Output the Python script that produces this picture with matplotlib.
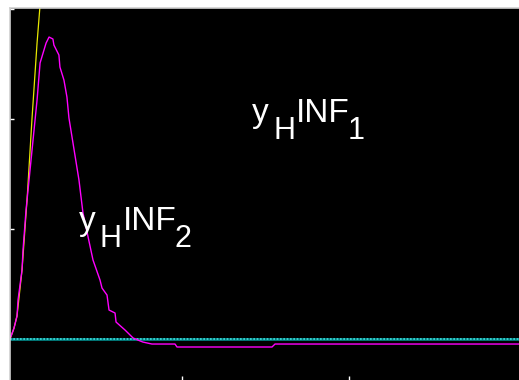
import numpy as np
import matplotlib
matplotlib.use('Agg')
import matplotlib.pyplot as plt

# magenta response curve (rises, peaks, settles slightly below zero)
t_inf2 = [0, 0.024, 0.042, 0.048, 0.072, 0.078, 0.096, 0.102, 0.120, 0.132,
          0.162, 0.180, 0.216, 0.234, 0.257, 0.263, 0.293, 0.299, 0.323, 0.341,
          0.353, 0.383, 0.413, 0.437, 0.497, 0.539, 0.551, 0.581, 0.593, 0.629,
          0.635, 0.689, 0.737, 0.766, 0.796, 0.850, 0.988, 1.000, 1.569, 1.587, 3.048]
y_inf2 = [-0.005, 0.095, 0.205, 0.350, 0.623, 0.805, 1.168, 1.259, 1.532, 1.714,
          2.168, 2.505, 2.686, 2.741, 2.723, 2.668, 2.577, 2.468, 2.350, 2.195,
          2.005, 1.723, 1.441, 1.141, 0.714, 0.532, 0.459, 0.395, 0.259, 0.232,
          0.150, 0.077, 0.005, -0.014, -0.032, -0.050, -0.050, -0.077, -0.077, -0.050, -0.050]

# yellow curve (steep rise, leaves the plot at the top)
t_yel = [0, 0.024, 0.042, 0.072, 0.102, 0.132, 0.162, 0.180, 0.186]
y_yel = [-0.005, 0.095, 0.205, 0.623, 1.259, 2.005, 2.686, 3.032, 3.168]

# cyan baseline
t_inf1 = [0, 3.048]
y_inf1 = [-0.005, -0.005]

W, H = 519, 380
fig = plt.figure(figsize=(W/100, H/100), dpi=100)
fig.patch.set_facecolor('white')
ax = fig.add_axes([10/W, 0, (W-10)/W, (H-8)/H])
ax.set_facecolor('black')

ax.plot(t_inf1, y_inf1, color='#008080', lw=2.0)
ax.plot(t_inf1, y_inf1, color='#40e0e0', lw=1.2, ls=(0, (1, 1)))
ax.plot(t_yel, y_yel, color='#e8e800', lw=0.9)
ax.plot(t_inf2, y_inf2, color='#ff00ff', lw=1.0)

ax.set_xlim(0, 3.048)
ax.set_ylim(-0.377, 3.005)
ax.set_xticks([1.03, 2.03])
ax.set_yticks([0, 1, 2, 3])
ax.tick_params(direction='in', colors='white', length=3, width=1,
               labelleft=False, labelbottom=False)
for s in ['top', 'left']:
    ax.spines[s].set_color('#d0d0d0')
    ax.spines[s].set_linewidth(1.2)
for s in ['bottom', 'right']:
    ax.spines[s].set_visible(False)

fnt = 'Liberation Sans'
def label(x, y, sub):
    # pixel coordinates of the main baseline
    fig.text(x/W, 1 - y/H, 'y', color='white', fontsize=24, family=fnt, va='baseline')
    fig.text((x+21)/W, 1 - (y+17)/H, 'H', color='white', fontsize=22, family=fnt, va='baseline')
    fig.text((x+44)/W, 1 - y/H, 'INF', color='white', fontsize=24, family=fnt, va='baseline')
    fig.text((x+96)/W, 1 - (y+17)/H, sub, color='white', fontsize=22, family=fnt, va='baseline')

label(252, 122, '1')
label(79, 230, '2')

plt.savefig('out.png', dpi=100, facecolor='white')
plt.close()
